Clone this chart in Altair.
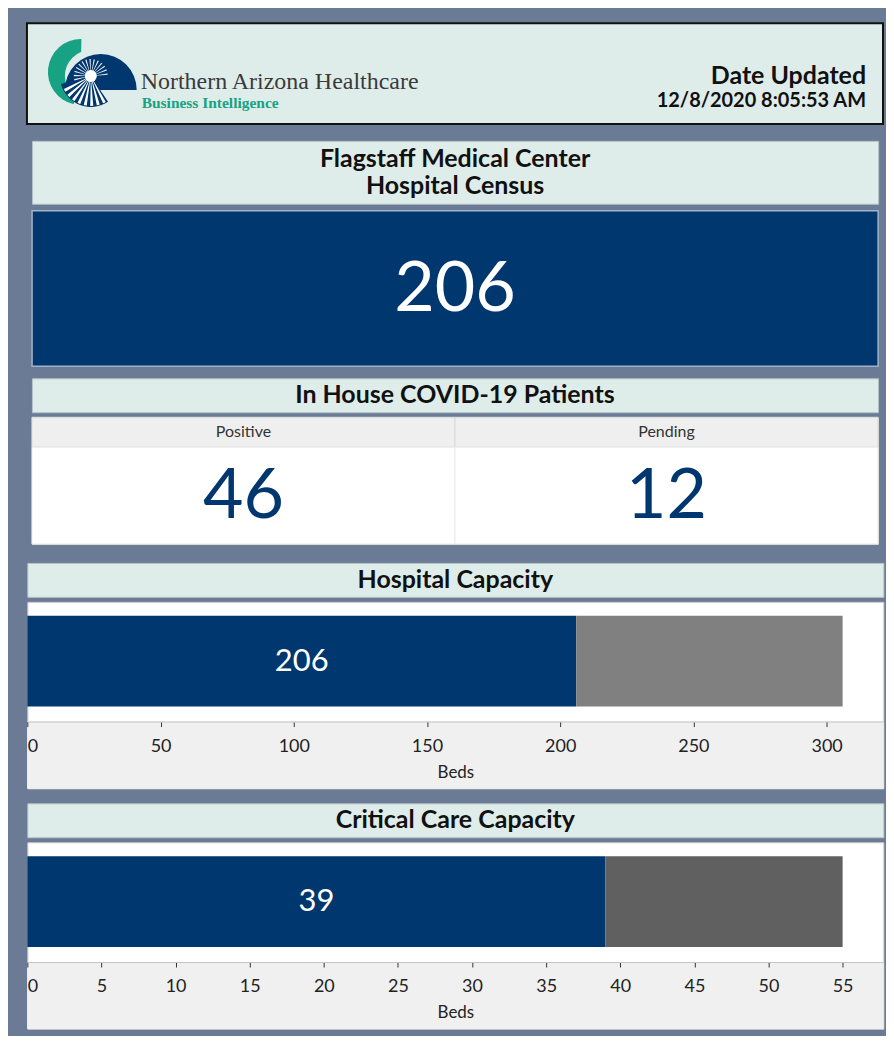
import altair as alt
import pandas as pd

org_name = ["Northern Arizona Healthcare"]
org_unit = ["Business Intelligence"]
updated_label = ["Date Updated"]
updated_stamp = ["12/8/2020 8:05:53 AM"]

census_title = ["Flagstaff Medical Center", "Hospital Census"]
census_value = [206]

covid_title = ["In House COVID-19 Patients"]
covid_status = ["Positive", "Pending"]
covid_count = [46, 12]

hosp_title = ["Hospital Capacity"]
hosp_occupied = [206]
hosp_capacity = [306]
hosp_ticks = [0, 50, 100, 150, 200, 250, 300]

crit_title = ["Critical Care Capacity"]
crit_occupied = [39]
crit_capacity = [55]
crit_ticks = [0, 5, 10, 15, 20, 25, 30, 35, 40, 45, 50, 55]

axis_label = ["Beds"]

# logo sunburst ray directions (radians, decorative)
ray_long = [2.62, 2.84, 3.06, 3.28, 3.50, 3.72, 3.94, 4.16]
ray_short = [4.45, 4.7, 4.95, 5.2, 5.45, 5.7, 5.95, 6.2, 6.45, 6.7, 6.95, 7.2, 7.45, 7.7]

# ---------------- styling ----------------
SLATE = "#6B7B96"
PANEL = "#DFEDEA"
NAVY = "#00376F"
GREEN = "#17A383"
AXIS_BG = "#F0F0F0"
FONT = "Lato"
WIDE, NARROW = 858, 848

one = pd.DataFrame({"k": [0]})


def view(fill, stroke, sw=1):
    return alt.ViewBackground(fill=fill, stroke=stroke, strokeWidth=sw)


# ---------------- header with logo ----------------
hb = alt.Chart(one)
SX, SY = 64, 53  # sunburst centre inside the header panel
hdr_layers = [
    hb.mark_arc(x=54, y=49, radius=33, radius2=0, theta=3.36, theta2=6.3, color=GREEN),
    hb.mark_arc(x=SX, y=SY, radius=26, radius2=0, theta=0, theta2=6.2832, color=PANEL),
    hb.mark_arc(x=74, y=67, radius=36, radius2=0, theta=4.712, theta2=7.854, color=NAVY),
    hb.mark_arc(x=SX, y=SY, radius=31, radius2=0, theta=2.55, theta2=4.45, color=NAVY),
]
for t in ray_long:
    hdr_layers.append(hb.mark_arc(x=SX, y=SY, radius=30, radius2=5, theta=t, theta2=t + 0.1,
                                  color="white"))
for t in ray_short:
    hdr_layers.append(hb.mark_arc(x=SX, y=SY, radius=17, radius2=4, theta=t, theta2=t + 0.08,
                                  color="white", opacity=0.9))
hdr_layers += [
    hb.mark_arc(x=SX, y=SY, radius=6, radius2=0, theta=0, theta2=6.2832, color="white"),
    hb.mark_text(text=org_name[0], font="Liberation Serif", fontSize=24, color="#3a3a3a",
                 align="left", baseline="alphabetic", x=114, y=66),
    hb.mark_text(text=org_unit[0], font="Liberation Serif", fontSize=15.5, fontWeight="bold",
                 color=GREEN, align="left", baseline="alphabetic", x=115, y=85),
    hb.mark_text(text=updated_label[0], font=FONT, fontSize=25, fontWeight="bold", color="#111",
                 align="right", baseline="alphabetic", x=841, y=61),
    hb.mark_text(text=updated_stamp[0], font=FONT, fontSize=20, fontWeight="bold", color="#111",
                 align="right", baseline="alphabetic", x=841, y=84),
]
header = alt.layer(*hdr_layers).properties(width=WIDE, height=101, view=view(PANEL, "#111", 2))


# ---------------- title strips ----------------
def title_panel(lines, width, height, lh=27):
    layers = []
    n = len(lines)
    for i, line in enumerate(lines):
        df = pd.DataFrame({"t": [line]})
        layers.append(alt.Chart(df).mark_text(
            font=FONT, fontSize=25, fontWeight="bold", color="#111",
            baseline="middle", align="center"
        ).encode(
            x=alt.value(width / 2),
            y=alt.value(height / 2 + (i - (n - 1) / 2) * lh),
            text="t:N"
        ))
    return alt.layer(*layers).properties(width=width, height=height,
                                         view=view(PANEL, "#B4C2C8"))


t_census = title_panel(census_title, NARROW, 63)
t_covid = title_panel(covid_title, NARROW, 34)
t_hosp = title_panel(hosp_title, WIDE, 34)
t_crit = title_panel(crit_title, WIDE, 34)

# ---------------- big census number ----------------
big = alt.Chart(pd.DataFrame({"v": census_value})).mark_text(
    font=FONT, fontSize=70, color="white", baseline="middle"
).encode(
    x=alt.value(NARROW / 2), y=alt.value(80), text="v:Q"
).properties(width=NARROW, height=156, view=view(NAVY, "#A3B3C8", 1.5))

# ---------------- COVID table ----------------
cdf = pd.DataFrame({"cat": covid_status, "value": covid_count})
cx = alt.X("cat:N", sort=covid_status, axis=None,
           scale=alt.Scale(paddingInner=0, paddingOuter=0))
cb = alt.Chart(cdf)
table = alt.layer(
    cb.mark_rect(fill="#EFEFEF", stroke="#DADADA").encode(x=cx, y=alt.value(0), y2=alt.value(30)),
    cb.mark_rect(fill="white", stroke="#EAEAEA").encode(x=cx, y=alt.value(30), y2=alt.value(127)),
    cb.mark_text(font=FONT, fontSize=16, color="#333", baseline="middle").encode(
        x=cx, y=alt.value(15), text="cat:N"),
    cb.mark_text(font=FONT, fontSize=70, color=NAVY, baseline="middle").encode(
        x=cx, y=alt.value(80), text="value:Q"),
).properties(width=NARROW, height=127, view=view("white", "#D0D0D0"))


# ---------------- capacity bars ----------------
def capacity_panel(occ, cap, ticks, avail_color):
    df = pd.DataFrame({
        "status": ["Occupied", "Available"],
        "start": [0, occ],
        "end": [occ, cap],
        "fill": [NAVY, avail_color],
    })
    xs = alt.Scale(domain=[0, cap * 1.05], nice=False, zero=True)
    ax = alt.Axis(values=ticks, offset=-67, zindex=1, grid=False, domainColor="#C4C4C4",
                  tickColor="#333", tickSize=5, labelFont=FONT, labelFontSize=18,
                  labelColor="#222", labelPadding=11, labelFlush=True, title=axis_label[0],
                  titleFont=FONT, titleFontSize=17, titleFontWeight="normal",
                  titleColor="#222", titlePadding=9)
    base = alt.Chart(df)
    band = base.mark_rect(color=AXIS_BG).encode(
        x=alt.value(0), x2=alt.value(WIDE), y=alt.value(120), y2=alt.value(187))
    bars = base.mark_bar().encode(
        x=alt.X("start:Q", scale=xs, axis=ax), x2="end:Q",
        y=alt.value(14), y2=alt.value(105),
        color=alt.Color("fill:N", scale=None))
    label = base.transform_filter(alt.datum.status == "Occupied").transform_calculate(
        mid="(datum.start + datum.end) / 2"
    ).mark_text(font=FONT, fontSize=31, color="white", baseline="middle").encode(
        x=alt.X("mid:Q", scale=xs, axis=ax), y=alt.value(60), text="end:Q")
    return alt.layer(band, bars, label).properties(
        width=WIDE, height=187, view=view("white", "#C8C8C8"))


hosp = capacity_panel(hosp_occupied[0], hosp_capacity[0], hosp_ticks, "#808080")
crit = capacity_panel(crit_occupied[0], crit_capacity[0], crit_ticks, "#606060")

# ---------------- assemble (spacings net of stroke bounds) ----------------
top = alt.vconcat(
    header,
    alt.vconcat(alt.vconcat(t_census, big, spacing=5),
                alt.vconcat(t_covid, table, spacing=3),
                spacing=10, center=True),
    spacing=15, center=True)
bottom = alt.vconcat(alt.vconcat(t_hosp, hosp, spacing=3),
                     alt.vconcat(t_crit, crit, spacing=3),
                     spacing=13, center=True)

chart = alt.vconcat(top, bottom, spacing=17, center=True).properties(
    padding={"left": 18, "top": 13, "right": 2, "bottom": 5},
    background=SLATE,
).configure(font=FONT)

chart.save("out.html", embed_options={"renderer": "svg", "actions": False})
